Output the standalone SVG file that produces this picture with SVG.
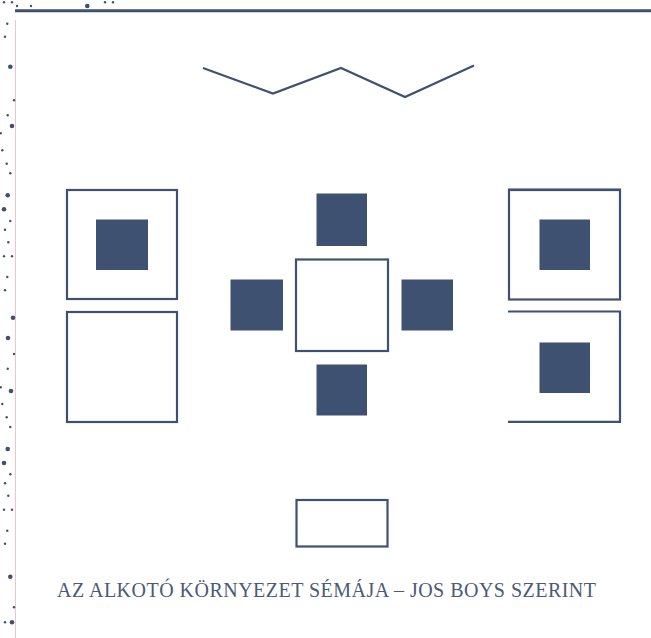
<svg xmlns="http://www.w3.org/2000/svg" width="651" height="638" viewBox="0 0 651 638">
<style>
.fill{fill:#3f5170;}
.box{fill:none;stroke:#3f5170;stroke-width:2.2;}
.dot{fill:#3f5170;}
.cap{font-family:"Liberation Serif","DejaVu Serif",serif;font-size:20px;fill:#4a5a78;}
</style>
<rect width="651" height="638" fill="#ffffff"/>
<g id="margin">
<line x1="15.5" y1="20" x2="15.5" y2="638" stroke="#f4c2c8" stroke-width="1"/>
<line x1="15" y1="10.8" x2="651" y2="10.8" stroke="#3f5170" stroke-width="3"/>
<g class="dot">
<circle cx="4" cy="2.3" r="1.2"/><circle cx="12" cy="2.3" r="1.2"/><circle cx="17" cy="6" r="1.2"/><circle cx="31" cy="6" r="1.2"/>
<circle cx="87.3" cy="6" r="2.3"/><circle cx="105" cy="2.3" r="1.2"/><circle cx="113" cy="2.3" r="1.2"/>
<circle cx="7.3" cy="23.7" r="1.2"/><circle cx="5" cy="36.7" r="1.2"/>
<circle cx="10.3" cy="66.7" r="2.3"/><circle cx="14" cy="100.3" r="1.2"/><circle cx="7.7" cy="115.3" r="1.2"/><circle cx="12" cy="126" r="2.3"/>
<circle cx="0.7" cy="133.3" r="1.2"/><circle cx="2.3" cy="150.3" r="1.2"/><circle cx="6.7" cy="163.7" r="1.2"/><circle cx="10.3" cy="173.3" r="1.2"/>
<circle cx="7.7" cy="195.3" r="2.3"/><circle cx="4" cy="209.3" r="2.3"/><circle cx="10.3" cy="221" r="1.2"/><circle cx="5" cy="229.7" r="1.2"/>
<circle cx="8.3" cy="242.3" r="1.2"/><circle cx="4" cy="256.3" r="1.2"/><circle cx="12" cy="256.3" r="1.2"/><circle cx="7.3" cy="277" r="1.2"/>
<circle cx="5" cy="290.3" r="1.2"/><circle cx="13" cy="317.7" r="2.3"/><circle cx="8" cy="338" r="2.3"/><circle cx="14" cy="354" r="1.2"/>
<circle cx="7.7" cy="368.7" r="1.2"/><circle cx="0.7" cy="387.3" r="1.2"/><circle cx="11" cy="391" r="2.3"/><circle cx="2.3" cy="404" r="1.2"/>
<circle cx="6.7" cy="417.3" r="1.2"/><circle cx="10.3" cy="427" r="1.2"/><circle cx="7.7" cy="449" r="2.3"/><circle cx="4" cy="463" r="2.3"/>
<circle cx="10.3" cy="474.3" r="1.2"/><circle cx="5" cy="483.3" r="1.2"/><circle cx="8.3" cy="495.7" r="1.2"/><circle cx="4" cy="509.7" r="1.2"/>
<circle cx="12" cy="509.7" r="1.2"/><circle cx="7.3" cy="530.7" r="1.2"/><circle cx="5" cy="543.7" r="1.2"/><circle cx="10.3" cy="576.7" r="2.3"/>
<circle cx="14" cy="607.3" r="1.2"/><circle cx="5" cy="622.3" r="1.2"/><circle cx="12" cy="622.3" r="2.3"/>
</g>
</g>
<g id="roof">
<polyline points="203,68 273,93.5 341,68 405,97 474,65.5" fill="none" stroke="#3f5170" stroke-width="2.2" stroke-linejoin="miter"/>
</g>
<g id="left-top">
<rect class="box" x="67" y="190" width="110" height="109"/>
<rect class="fill" x="96" y="219.5" width="52" height="50.5"/>
</g>
<g id="left-bottom">
<rect class="box" x="67" y="312" width="110" height="110"/>
</g>
<g id="center">
<rect class="box" x="296" y="259.5" width="92" height="91.5"/>
</g>
<g id="center-top"><rect class="fill" x="316.5" y="193.5" width="50.5" height="52.5"/></g>
<g id="center-left"><rect class="fill" x="230.5" y="279.5" width="52.5" height="51"/></g>
<g id="center-right"><rect class="fill" x="401.5" y="279.5" width="51.5" height="51"/></g>
<g id="center-bottom"><rect class="fill" x="316.5" y="364.5" width="50.5" height="51"/></g>
<g id="right-top">
<rect class="box" x="509" y="190" width="111" height="109.5"/>
<line x1="508" y1="189.8" x2="621" y2="189.8" stroke="#3f5170" stroke-width="2.5"/>
<rect class="fill" x="539.5" y="219.5" width="50.5" height="50.5"/>
</g>
<g id="right-bottom">
<polyline points="508,311.5 620,311.5 620,421.8 508,421.8" fill="none" stroke="#3f5170" stroke-width="2.2"/>
<rect class="fill" x="539.5" y="342.5" width="50.5" height="50.5"/>
</g>
<g id="bottom">
<rect class="box" x="296.5" y="500" width="91" height="46.5"/>
</g>
<g id="caption">
<text class="cap" x="57" y="597" textLength="539" lengthAdjust="spacing">AZ ALKOTÓ KÖRNYEZET SÉMÁJA – JOS BOYS SZERINT</text>
</g>
</svg>
